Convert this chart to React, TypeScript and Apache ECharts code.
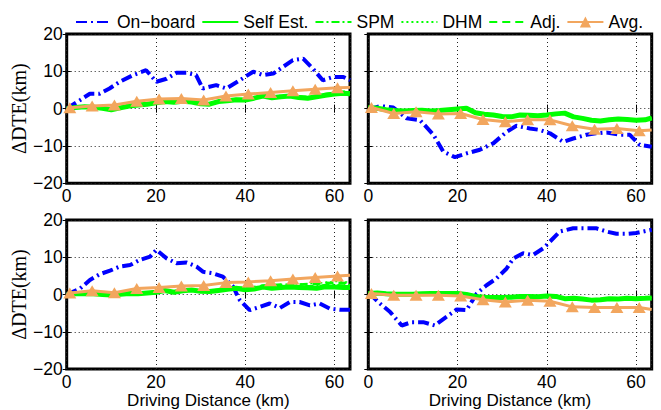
import { useEffect, useRef } from 'react';
import * as echarts from 'echarts';

// ---------- data ----------
const seriesNames = ['On−board', 'Self Est.', 'SPM', 'DHM', 'Adj.', 'Avg.'];
const xTickValues = [0, 20, 40, 60];
const xMax = 63.5;
const yMin = -20;
const yMax = 20;

// On-board estimate: [km, ΔDTE]
const onboardTL = [[0, 0], [3, 2.3], [5.2, 4], [7.4, 4], [9.6, 5.4], [11.9, 7.2], [14.9, 9], [17.8, 10.3], [20.1, 7.2], [22.4, 8], [24.6, 9.6], [26.8, 9.6], [29, 9], [30.5, 5.4], [33.5, 6.3], [35.8, 5.4], [38.8, 7.6], [41.8, 9.9], [44, 9], [46.3, 9.4], [48.5, 11.2], [50.7, 13], [53, 13.4], [55.2, 10.7], [57.4, 7.6], [59.7, 8.5], [62, 8.5], [63.5, 7.6]];
const onboardTR = [[0, 0], [0.7, 0], [2.6, 0.7], [5.6, 0.3], [8.6, -2.6], [11.6, -3.1], [14.6, -7], [16.8, -11.5], [19.4, -13], [22, -12], [25, -11], [28, -9.3], [31, -6.2], [33.2, -4.6], [36.2, -5.3], [38.4, -5.7], [40.7, -6.6], [43.7, -8.9], [45.9, -8], [48.9, -7], [51, -6.6], [53.4, -6.4], [56.3, -7], [58.6, -7], [60.8, -9.7], [63.5, -10.2]];
const onboardBL = [[0, 0], [3, 1.6], [5.2, 3.9], [7.5, 5.5], [9.7, 6.4], [11.9, 7.5], [14.2, 7.9], [16.4, 9.3], [18.7, 10.2], [20.1, 12], [22.4, 9.7], [24.6, 8.4], [26.9, 8.6], [29.1, 7.5], [30.6, 6.1], [32.8, 5.7], [35, 4.8], [37.3, 2.1], [38.8, -1.5], [41, -4.2], [43.3, -3.3], [45.5, -2.4], [47.8, -3.6], [50, -2], [52.2, -2], [54.5, -2.9], [56.7, -2.4], [59, -3.8], [61.2, -4.1], [63.5, -4.1]];
const onboardBR = [[0, 0], [0.7, -0.2], [2.6, -2.4], [4.9, -4.7], [7.5, -8.3], [9.7, -7.4], [12.3, -7.4], [14.9, -8.3], [17.5, -6], [19.8, -4], [22, -4.2], [24.3, 0.3], [26.5, 2.5], [28.7, 4.3], [31, 7], [32.5, 9.7], [34.7, 11.1], [36.9, 10.6], [39.2, 12.4], [40.7, 14.2], [42.9, 16.9], [45.9, 17.8], [48.9, 17.8], [51, 17.8], [53.4, 16.9], [55.6, 16.3], [57.9, 16.3], [60, 16.5], [63.5, 17.4]];

// Green estimators sampled every 2 km
const greenKm = [0, 2, 4, 6, 8, 10, 12, 14, 16, 18, 20, 22, 24, 26, 28, 30, 32, 34, 36, 38, 40, 42, 44, 46, 48, 50, 52, 54, 56, 58, 60, 62, 63.5];

const selfTL = [0, 0.3, 0.5, 0.4, 0.1, -0.3, 0.2, 0.7, 1.0, 1.2, 1.6, 1.9, 1.7, 2.0, 1.8, 1.3, 1.2, 1.9, 2.1, 2.4, 2.3, 2.8, 3.4, 2.9, 3.2, 3.4, 3.0, 2.8, 3.2, 3.6, 3.9, 4.1, 4.0];
const spmTL = [0, 0.4, 0.6, 0.5, 0.2, -0.1, 0.3, 0.8, 1.2, 1.4, 1.8, 2.0, 1.9, 2.2, 2.0, 1.5, 1.4, 2.1, 2.3, 2.6, 2.5, 3.0, 3.5, 3.1, 3.4, 3.6, 3.3, 3.1, 3.4, 3.8, 4.1, 4.3, 4.3];
const dhmTL = [0, 0.2, 0.4, 0.3, 0.0, -0.2, 0.2, 0.6, 1.0, 1.3, 1.7, 2.0, 1.8, 2.1, 1.9, 1.4, 1.3, 2.0, 2.2, 2.5, 2.4, 2.9, 3.4, 3.0, 3.3, 3.5, 3.2, 3.0, 3.4, 3.8, 4.2, 4.4, 4.5];
const adjTL = [0, 0.3, 0.5, 0.5, 0.2, -0.1, 0.3, 0.8, 1.1, 1.3, 1.7, 2.1, 1.9, 2.1, 1.9, 1.4, 1.4, 2.0, 2.3, 2.6, 2.6, 3.0, 3.5, 3.1, 3.4, 3.6, 3.3, 3.1, 3.5, 3.9, 4.2, 4.5, 4.6];

const selfTR = [0.3, 0.1, -0.3, -0.5, -0.6, -0.5, -0.4, -0.6, -0.5, -0.3, -0.1, 0.1, -1.1, -1.5, -1.7, -2.1, -2.2, -1.7, -1.8, -1.9, -1.7, -1.4, -1.2, -2.2, -2.6, -3.1, -3.3, -3.0, -2.8, -2.9, -3.1, -3.0, -2.5];
const spmTR = [0.3, 0.2, -0.2, -0.4, -0.5, -0.4, -0.3, -0.5, -0.4, -0.2, 0.0, 0.2, -0.9, -1.3, -1.5, -1.9, -2.0, -1.6, -1.7, -1.8, -1.6, -1.3, -1.1, -2.0, -2.4, -2.9, -3.1, -2.8, -2.7, -2.8, -2.9, -2.8, -2.4];
const dhmTR = [0.3, 0.0, -0.4, -0.6, -0.7, -0.6, -0.5, -0.7, -0.6, -0.4, -0.2, 0.0, -1.2, -1.6, -1.8, -2.2, -2.3, -1.9, -2.0, -2.1, -1.9, -1.6, -1.4, -2.4, -2.8, -3.2, -3.4, -3.2, -3.0, -3.1, -3.3, -3.2, -2.8];
const adjTR = [0.3, 0.1, -0.3, -0.4, -0.5, -0.4, -0.3, -0.5, -0.4, -0.2, 0.0, 0.1, -1.0, -1.4, -1.6, -2.0, -2.1, -1.6, -1.7, -1.8, -1.6, -1.3, -1.1, -2.1, -2.5, -3.0, -3.2, -2.9, -2.7, -2.8, -3.0, -2.9, -2.4];

const selfBL = [0, 0.2, 0.3, 0.2, 0, -0.1, 0.1, 0.3, 0.2, 0.4, 0.6, 1.1, 0.6, 1.0, 1.2, 0.9, 0.8, 1.1, 1.4, 1.7, 1.3, 1.5, 2.0, 1.7, 1.9, 2.0, 1.9, 1.8, 1.7, 2.1, 2.0, 1.9, 1.9];
const spmBL = [0, 0.2, 0.3, 0.3, 0.1, 0.0, 0.2, 0.4, 0.3, 0.5, 0.7, 1.2, 0.8, 1.1, 1.3, 1.0, 0.9, 1.2, 1.5, 1.8, 1.5, 1.7, 2.2, 2.0, 2.2, 2.2, 2.2, 2.3, 2.3, 2.6, 2.6, 2.5, 2.6];
const dhmBL = [0, 0.1, 0.2, 0.2, 0.0, -0.1, 0.1, 0.3, 0.3, 0.5, 0.7, 1.2, 0.8, 1.2, 1.4, 1.1, 1.0, 1.3, 1.7, 2.0, 1.8, 2.0, 2.5, 2.4, 2.7, 2.8, 2.8, 2.9, 3.0, 3.3, 3.5, 3.4, 3.4];
const adjBL = [0, 0.2, 0.3, 0.3, 0.1, 0.0, 0.2, 0.4, 0.3, 0.5, 0.8, 1.2, 0.8, 1.2, 1.4, 1.1, 1.0, 1.3, 1.6, 1.9, 1.8, 2.0, 2.4, 2.5, 2.7, 2.6, 2.7, 2.8, 2.8, 3.1, 3.2, 3.1, 3.2];

const selfBR = [0.3, 0.4, 0.2, 0.1, 0.1, 0.1, 0.2, 0.3, 0.3, 0.3, 0.3, 0.0, -0.5, -0.7, -0.8, -0.8, -0.7, -0.5, -0.5, -0.6, -0.4, -0.5, -1.1, -1.0, -1.2, -1.5, -1.4, -1.1, -1.2, -1.0, -1.1, -1.0, -0.9];
const spmBR = [0.3, 0.4, 0.3, 0.2, 0.2, 0.2, 0.3, 0.4, 0.4, 0.4, 0.4, 0.1, -0.4, -0.6, -0.7, -0.7, -0.6, -0.4, -0.4, -0.5, -0.3, -0.4, -1.0, -0.9, -1.1, -1.3, -1.2, -1.0, -1.0, -0.9, -0.9, -0.8, -0.8];
const dhmBR = [0.3, 0.3, 0.1, 0.0, 0.0, 0.0, 0.1, 0.2, 0.2, 0.2, 0.2, -0.1, -0.6, -0.8, -0.9, -0.9, -0.8, -0.6, -0.6, -0.7, -0.5, -0.6, -1.2, -1.1, -1.3, -1.6, -1.5, -1.2, -1.3, -1.1, -1.2, -1.1, -1.0];
const adjBR = [0.3, 0.4, 0.2, 0.1, 0.1, 0.1, 0.2, 0.3, 0.3, 0.3, 0.3, 0.0, -0.5, -0.7, -0.8, -0.8, -0.7, -0.5, -0.5, -0.6, -0.4, -0.5, -1.0, -1.0, -1.2, -1.4, -1.3, -1.1, -1.1, -1.0, -1.0, -0.9, -0.9];

// Average estimator, markers every 5 km, last point is the line end
const avgKm = [0.7, 5.7, 10.7, 15.7, 20.7, 25.7, 30.7, 35.7, 40.7, 45.7, 50.7, 55.7, 60.7, 63.5];
const avgTL = [0.25, 0.7, 1.0, 2.0, 2.6, 2.75, 2.3, 3.4, 3.9, 4.3, 4.8, 5.2, 5.6, 5.7];
const avgTR = [0.3, -1.3, -0.8, -1.4, -1.3, -2.9, -3.5, -3.0, -3.0, -4.6, -5.5, -5.3, -5.9, -5.7];
const avgBL = [0.4, 1.0, 0.5, 1.6, 1.9, 2.3, 2.4, 3.2, 3.4, 3.7, 4.2, 4.6, 5.0, 5.2];
const avgBR = [0.3, -0.2, -0.2, -0.2, -0.4, -1.4, -2.0, -1.5, -1.8, -3.3, -3.5, -3.5, -3.5, -4.0];

// ---------- styling ----------
const SANS = 'Liberation Sans, Arial, Helvetica, sans-serif';
const SERIF = 'Liberation Serif, Times New Roman, serif';
const BLUE = '#0000ff';
const GREEN = '#00ff00';
const ORANGE = '#f2a65e';

const panels = [
  { left: 66.7, top: 34, width: 283.3, height: 149.3, yLabels: true, xName: false, onboard: onboardTL, self: selfTL, spm: spmTL, dhm: dhmTL, adj: adjTL, avg: avgTL },
  { left: 368.3, top: 34, width: 283.4, height: 149.3, yLabels: false, xName: false, onboard: onboardTR, self: selfTR, spm: spmTR, dhm: dhmTR, adj: adjTR, avg: avgTR },
  { left: 66.7, top: 220, width: 283.3, height: 150, yLabels: true, xName: true, onboard: onboardBL, self: selfBL, spm: spmBL, dhm: dhmBL, adj: adjBL, avg: avgBL },
  { left: 368.3, top: 220, width: 283.4, height: 150, yLabels: false, xName: true, onboard: onboardBR, self: selfBR, spm: spmBR, dhm: dhmBR, adj: adjBR, avg: avgBR },
];

const fmtNum = (v: number) => (v < 0 ? '−' + Math.abs(v) : String(v));

function buildOption() {
  const grid: any[] = [];
  const xAxis: any[] = [];
  const yAxis: any[] = [];
  const series: any[] = [];
  const tick = { show: true, inside: true, length: 4, lineStyle: { color: '#000', width: 1 } };
  const split = { show: true, lineStyle: { color: '#222', type: [1, 3], width: 1 } };

  panels.forEach((p, gi) => {
    grid.push({ left: p.left, top: p.top, width: p.width, height: p.height, show: true, borderColor: '#000', borderWidth: 3, backgroundColor: 'transparent' });
    xAxis.push({
      type: 'value', gridIndex: gi, min: 0, max: xMax, interval: 20, position: 'bottom',
      axisLine: { show: false }, axisTick: tick, splitLine: split,
      axisLabel: { color: '#000', fontSize: 17.5, fontFamily: SANS, margin: 4, formatter: (v: number) => (xTickValues.includes(v) ? String(v) : '') },
      name: p.xName ? 'Driving Distance (km)' : '', nameLocation: 'middle', nameGap: 21,
      nameTextStyle: { color: '#000', fontSize: 17, fontFamily: SANS },
    });
    xAxis.push({
      type: 'value', gridIndex: gi, min: 0, max: xMax, interval: 20, position: 'top',
      axisLine: { show: false }, axisTick: tick, splitLine: { show: false }, axisLabel: { show: false },
    });
    yAxis.push({
      type: 'value', gridIndex: gi, min: yMin, max: yMax, interval: 10, position: 'left',
      axisLine: { show: false }, axisTick: tick, splitLine: split,
      axisLabel: { show: p.yLabels, color: '#000', fontSize: 17.5, fontFamily: SANS, margin: 4, formatter: fmtNum },
      name: p.yLabels ? 'ΔDTE(km)' : '', nameLocation: 'middle', nameRotate: 90, nameGap: 37,
      nameTextStyle: { color: '#000', fontSize: 20, fontFamily: SERIF },
    });
    yAxis.push({
      type: 'value', gridIndex: gi, min: yMin, max: yMax, interval: 10, position: 'right',
      axisLine: { show: false }, axisTick: tick, splitLine: { show: false }, axisLabel: { show: false },
    });
    const xi = gi * 2;
    const yi = gi * 2;
    const base = { type: 'line', xAxisIndex: xi, yAxisIndex: yi, symbol: 'none', showSymbol: false, smooth: false, animation: false };
    const zipG = (vals: number[]) => greenKm.map((k, i) => [k, vals[i]]);
    series.push({ ...base, name: seriesNames[0], data: p.onboard, lineStyle: { color: BLUE, width: 4, type: [11, 4, 2, 4] }, itemStyle: { color: BLUE } });
    series.push({ ...base, name: seriesNames[1], data: zipG(p.self), lineStyle: { color: GREEN, width: 5, type: 'solid' }, itemStyle: { color: GREEN } });
    series.push({ ...base, name: seriesNames[2], data: zipG(p.spm), lineStyle: { color: GREEN, width: 2, type: [8, 3, 2, 3] }, itemStyle: { color: GREEN } });
    series.push({ ...base, name: seriesNames[3], data: zipG(p.dhm), lineStyle: { color: GREEN, width: 1.5, type: [2, 3] }, itemStyle: { color: GREEN } });
    series.push({ ...base, name: seriesNames[4], data: zipG(p.adj), lineStyle: { color: GREEN, width: 2.5, type: [8, 5] }, itemStyle: { color: GREEN } });
    series.push({
      ...base, name: seriesNames[5], symbol: 'triangle', symbolSize: [13, 11], showSymbol: true,
      data: avgKm.map((k, i) => (i === avgKm.length - 1 ? { value: [k, p.avg[i]], symbol: 'none' } : { value: [k, p.avg[i]] })),
      lineStyle: { color: ORANGE, width: 3, type: 'solid' }, itemStyle: { color: ORANGE },
    });
  });

  return {
    animation: false,
    backgroundColor: '#fff',
    legend: {
      left: 70, top: 8, itemWidth: 36, itemHeight: 14, itemGap: 6,
      data: seriesNames.map((n) => (n === 'Avg.' ? n : { name: n, itemStyle: { opacity: 0 } })),
      textStyle: { color: '#000', fontSize: 17.5, fontFamily: SANS },
      selectedMode: false,
    },
    grid, xAxis, yAxis, series,
  };
}

export default function App() {
  const ref = useRef<HTMLDivElement>(null);
  useEffect(() => {
    document.body.style.margin = '0';
    if (!ref.current) return;
    const chart = echarts.init(ref.current, undefined, { renderer: 'svg' });
    chart.setOption(buildOption() as any);
    return () => chart.dispose();
  }, []);
  return <div ref={ref} style={{ width: 661, height: 410 }} />;
}
